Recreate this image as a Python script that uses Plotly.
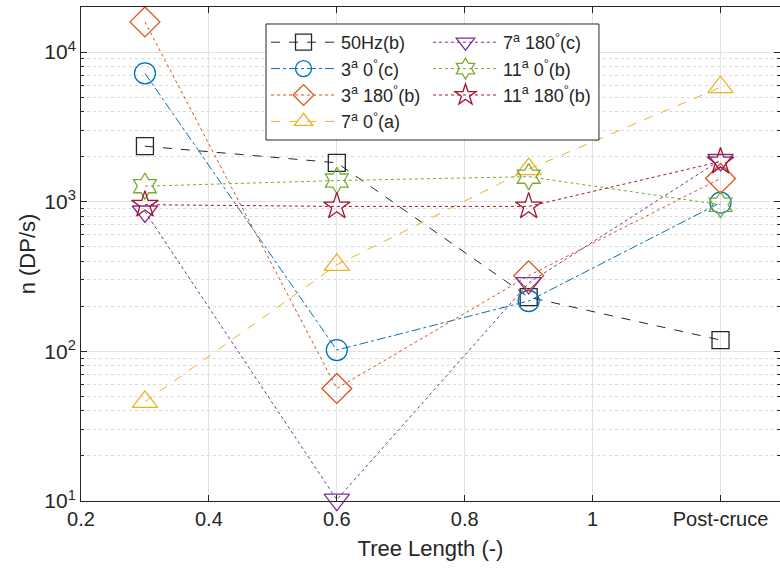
import plotly.graph_objects as go

x = [0.3, 0.6, 0.9, 1.2]
hz50 = [2350, 1820, 230, 119]
a3_0 = [7210, 102, 217, 985]
a3_180 = [15900, 56.5, 320, 1430]
a7_0 = [46, 378, 1650, 5820]
a7_180 = [860, 10.2, 286, 1900]
a11_0 = [1270, 1384, 1470, 955]
a11_180 = [955, 930, 930, 1855]

names = ["50Hz(b)", "3<sup>a</sup> 0<sup>°</sup>(c)", "3<sup>a</sup> 180<sup>°</sup>(b)",
         "7<sup>a</sup> 0<sup>°</sup>(a)", "7<sup>a</sup> 180<sup>°</sup>(c)",
         "11<sup>a</sup> 0<sup>°</sup>(b)", "11<sup>a</sup> 180<sup>°</sup>(b)"]

xticks = [0.2, 0.4, 0.6, 0.8, 1.0, 1.2]
xticklabels = ["0.2", "0.4", "0.6", "0.8", "1", "Post-cruce"]
yticks = [10, 100, 1000, 10000]
yticklabels = ["10<sup>1</sup>", "10<sup>2</sup>", "10<sup>3</sup>", "10<sup>4</sup>"]

series = [hz50, a3_0, a3_180, a7_0, a7_180, a11_0, a11_180]
colors = ["#262626", "#0072BD", "#D95319", "#EDB120", "#7E2F8E", "#77AC30", "#A2142F"]
dashes = ["dash", "dashdot", "dot", "dash", "dot", "dot", "dot"]
symbols = ["square-open", "circle-open", "diamond-open", "triangle-up-open",
           "triangle-down-open", "hexagram-open", "star-open"]
sizes = [17, 21, 23, 22, 22, 20, 20]
legends = ["legend", "legend", "legend", "legend", "legend2", "legend2", "legend2"]

fig = go.Figure()
for vals, nm, c, d, s, sz, lg in zip(series, names, colors, dashes, symbols, sizes, legends):
    fig.add_trace(go.Scatter(
        x=x, y=vals, name=nm, mode="lines+markers", legend=lg,
        line=dict(color=c, width=1, dash=d),
        marker=dict(symbol=s, size=sz, color=c, line=dict(color=c, width=1.3)),
        cliponaxis=False,
    ))

axcol = "#262626"
leg_common = dict(
    orientation="v", yanchor="top", xanchor="left", y=0.9656,
    itemwidth=65, bgcolor="rgba(0,0,0,0)", borderwidth=0,
    font=dict(size=18), tracegroupgap=0,
)
fig.update_layout(
    width=780, height=569,
    margin=dict(l=81, r=0, t=7, b=68),
    paper_bgcolor="white", plot_bgcolor="white",
    font=dict(family="Liberation Sans, Arial, sans-serif", size=18, color=axcol),
    legend=dict(x=0.2647, **leg_common),
    legend2=dict(x=0.4964, **leg_common),
    shapes=[dict(type="rect", xref="paper", yref="paper",
                 x0=0.2647, x1=0.741, y0=0.7308, y1=0.9656,
                 line=dict(color=axcol, width=1), fillcolor="white", layer="above")],
    xaxis=dict(
        range=[0.2, 1.293], tickvals=xticks, ticktext=xticklabels,
        showgrid=True, gridcolor="#e3e3e3", gridwidth=1, automargin=False,
        showline=True, linecolor=axcol, linewidth=1, mirror="ticks",
        ticks="inside", ticklen=6, tickcolor=axcol, zeroline=False,
        title=dict(text="Tree Length (-)", font=dict(size=22), standoff=11),
        tickfont=dict(size=20),
    ),
    yaxis=dict(
        type="log", range=[1, 4.301], tickvals=yticks, ticktext=yticklabels,
        showgrid=True, gridcolor="#e3e3e3", gridwidth=1, automargin=False,
        showline=True, linecolor=axcol, linewidth=1, mirror="ticks",
        ticks="inside", ticklen=6, tickcolor=axcol, zeroline=False,
        minor=dict(dtick="D1", showgrid=True, gridcolor="#d9d9d9", griddash="dot",
                   ticks="inside", ticklen=3, tickcolor=axcol),
        title=dict(text="n (DP/s)", font=dict(size=22), standoff=2),
        tickfont=dict(size=21),
    ),
)

fig.write_html("out.html", config={"displayModeBar": False},
               post_script="document.body.style.margin='0px';")
